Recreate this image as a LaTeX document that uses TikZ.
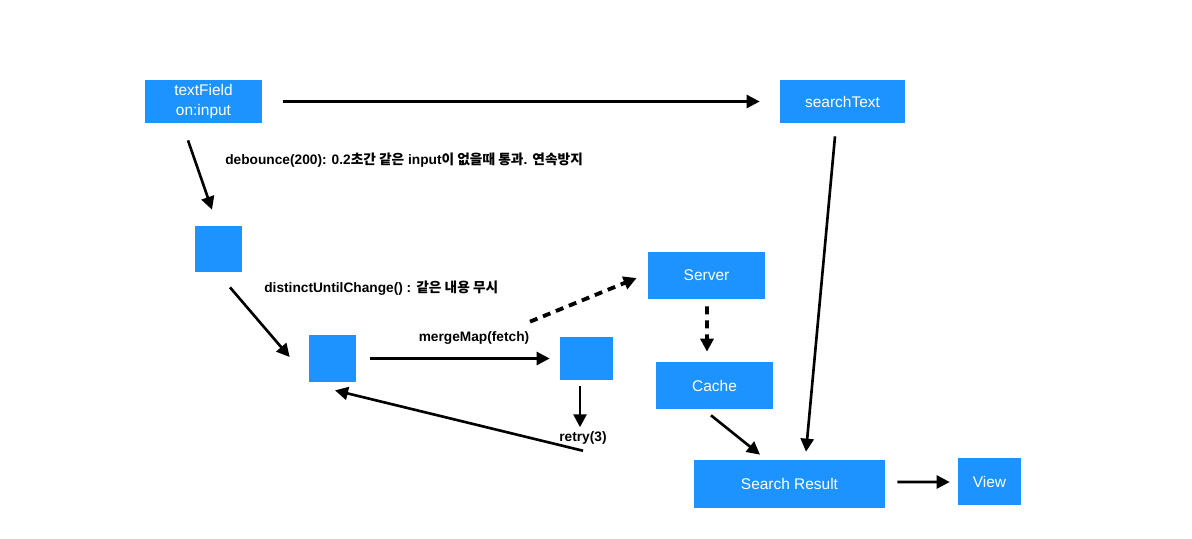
\documentclass[tikz,border=0pt]{standalone}
\usepackage{fontspec}
\setmainfont{Liberation Sans}
\newfontfamily\kofont{Noto Sans CJK KR}
\newcommand{\ko}[1]{{\kofont #1}}
\usetikzlibrary{arrows.meta}
\definecolor{boxblue}{RGB}{28,147,255}

\begin{document}
\begin{tikzpicture}[x=0.02cm,y=-0.02cm,
    box/.style={fill=boxblue,text=white,inner sep=0pt,align=center,font=\fontsize{8.8}{11.4}\selectfont},
    lbl/.style={inner sep=0pt,font=\bfseries\fontsize{7.8}{9}\selectfont},
    arr/.style={line width=1.5pt,-{Triangle[length=0.26cm,width=0.26cm]}},
    darr/.style={arr,line width=2.2pt,dash pattern=on 0.16cm off 0.12cm}]
    \useasboundingbox (0,0) rectangle (1192,538);
    % boxes
    \node[box, minimum width=2.34cm, minimum height=0.86cm] (tf) at (203.5,101.5) {textField\\on:input};
    \node[box, minimum width=2.5cm, minimum height=0.86cm] (st) at (842.5,101.5) {searchText};
    \node[box, minimum width=0.94cm, minimum height=0.92cm] (b1) at (218.5,249) {};
    \node[box, minimum width=0.94cm, minimum height=0.94cm] (b2) at (332.5,358.5) {};
    \node[box, minimum width=1.06cm, minimum height=0.86cm] (b3) at (586.5,358.5) {};
    \node[box, minimum width=2.34cm, minimum height=0.94cm] (srv) at (706.5,275.5) {Server};
    \node[box, minimum width=2.34cm, minimum height=0.94cm] (cache) at (714.5,385.5) {Cache};
    \node[box, minimum width=3.82cm, minimum height=0.96cm] (res) at (789.5,484) {Search Result};
    \node[box, minimum width=1.26cm, minimum height=0.94cm] (view) at (989.5,481.5) {View};
    % labels
    \node[lbl, anchor=west] (deb) at (225,160) {debounce(200): 0.2\ko{초간 같은} input\ko{이 없을때 통과}. \ko{연속방지}};
    \node[lbl, anchor=west] (dist) at (264,288) {distinctUntilChange() : \ko{같은 내용 무시}};
    \node[lbl] (mm) at (474,338) {mergeMap(fetch)};
    \node[lbl] (retry) at (583,438) {retry(3)};
    % arrows
    \draw[arr] ([xshift=21*0.02cm]tf.east) -- ([xshift=-20*0.02cm]st.west);
    \draw[arr] ([shift={(-15.5,17)}]tf.south) -- ([shift={(-6.5,-16)}]b1.north);
    \draw[arr] ([shift={(11.5,15)}]b1.south) -- ([shift={(-19,-1.5)}]b2.west);
    \draw[arr] ([shift={(14,0)}]b2.east) -- ([shift={(-10,0)}]b3.west);
    \draw[darr] ([shift={(-56.5,-15)}]b3.north) -- ([shift={(-11,2.5)}]srv.west);
    \draw[arr] ([shift={(-6.5,6)}]b3.south) -- ([shift={(-3,-4)}]retry.north);
    \draw[arr] ([shift={(0,6)}]retry.south) -- ([shift={(2.5,8)}]b2.south);
    \draw[darr] ([shift={(0.5,7)}]srv.south) -- ([shift={(-7.5,-10)}]cache.north);
    \draw[arr] ([shift={(-3.5,6)}]cache.south) -- ([shift={(-29.5,-5)}]res.north);
    \draw[arr] ([shift={(-7.5,13)}]st.south) -- ([shift={(16.5,-8)}]res.north);
    \draw[arr] ([shift={(12,-2)}]res.east) -- ([shift={(-8,0.5)}]view.west);
\end{tikzpicture}
\end{document}
